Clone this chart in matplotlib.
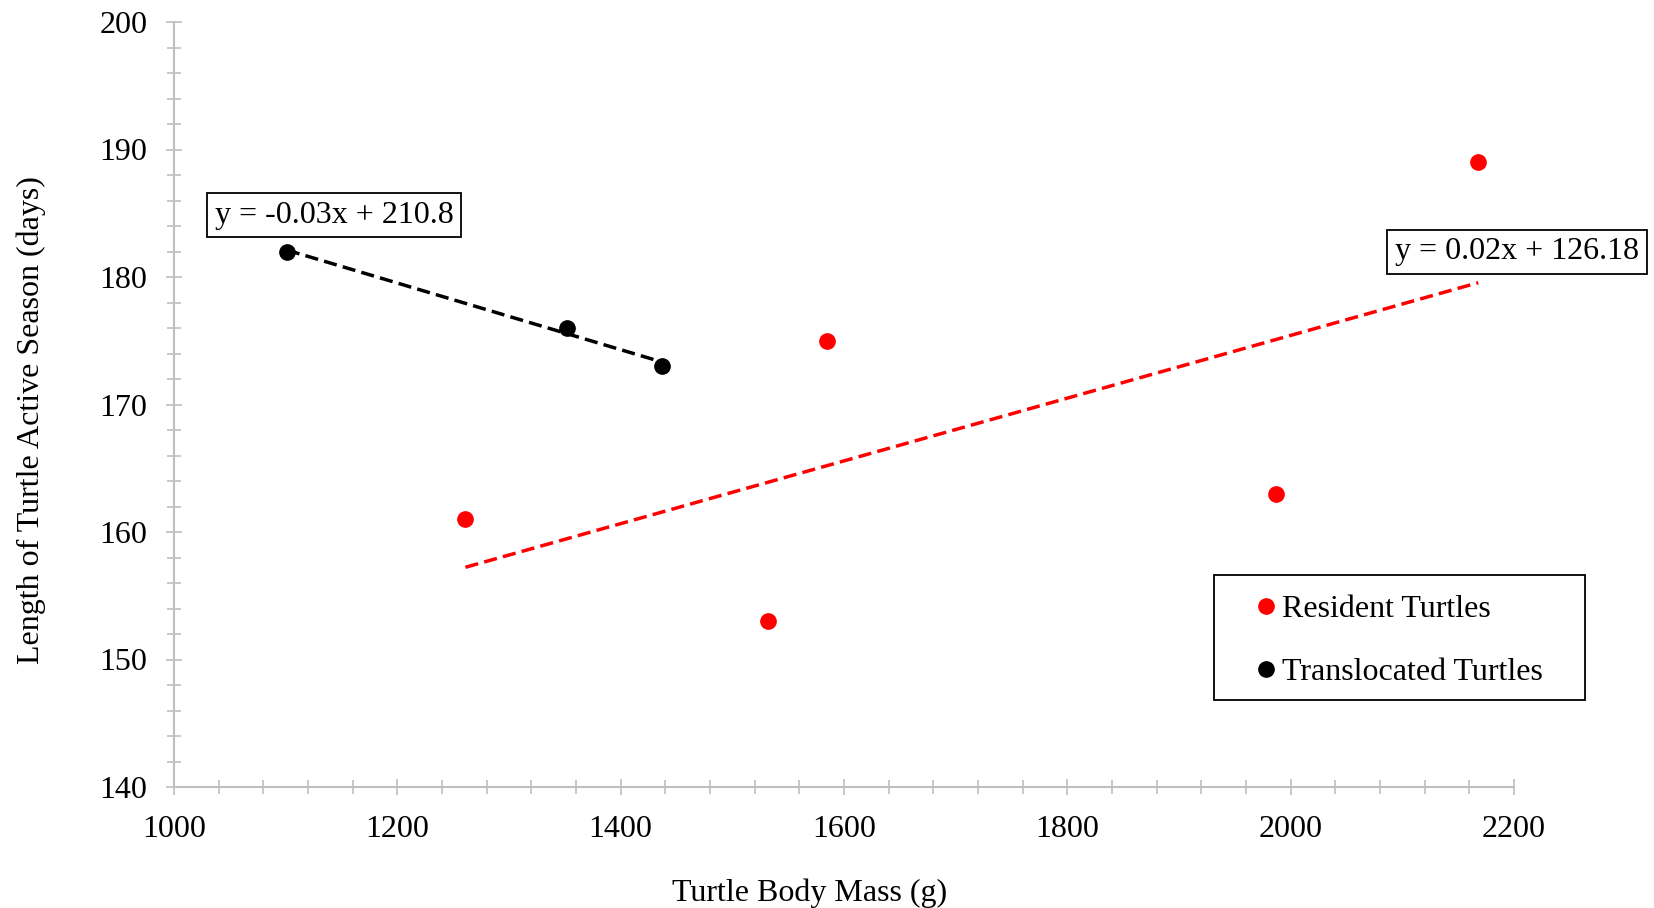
import matplotlib
matplotlib.use("Agg")
import matplotlib.pyplot as plt
from matplotlib.patches import Rectangle
import numpy as np
from matplotlib.ticker import MultipleLocator

# Datos
resident_mass = [1261, 1532, 1585, 1987, 2168]
resident_days = [161, 153, 175, 163, 189]
transloc_mass = [1101, 1352, 1437]
transloc_days = [182, 176, 173]

resident_label = "Resident Turtles"
transloc_label = "Translocated Turtles"
x_label = "Turtle Body Mass (g)"
y_label = "Length of Turtle Active Season (days)"
resident_eq = "y = 0.02x + 126.18"
transloc_eq = "y = -0.03x + 210.8"

plt.rcParams['font.family'] = ['Liberation Serif', 'DejaVu Serif']

W, H = 1654, 908
fig = plt.figure(figsize=(W / 100, H / 100), dpi=100)
ax = fig.add_axes([174 / W, 1 - 787 / H, (1514 - 174) / W, (787 - 22) / H])

gris = '#BFBFBF'
fs = 23

# Lineas de tendencia (regresion lineal)
def tendencia(x, y):
    m, b = np.polyfit(x, y, 1)
    xs = np.array([min(x), max(x)])
    return xs, m * xs + b

xr, yr = tendencia(resident_mass, resident_days)
xt, yt = tendencia(transloc_mass, transloc_days)

ax.plot(xr, yr, color='#FF0000', lw=2.5, dashes=(3.8, 1.8), zorder=2)
ax.plot(xt, yt, color='black', lw=2.5, dashes=(3.8, 1.8), zorder=2)

ax.plot(resident_mass, resident_days, 'o', color='#FF0000', ms=11, ls='none',
        label=resident_label, zorder=3)
ax.plot(transloc_mass, transloc_days, 'o', color='black', ms=11, ls='none',
        label=transloc_label, zorder=3)

ax.set_xlim(1000, 2200)
ax.set_ylim(140, 200)
ax.xaxis.set_major_locator(MultipleLocator(200))
ax.xaxis.set_minor_locator(MultipleLocator(40))
ax.yaxis.set_major_locator(MultipleLocator(10))
ax.yaxis.set_minor_locator(MultipleLocator(2))

for s in ['top', 'right']:
    ax.spines[s].set_visible(False)
for s in ['left', 'bottom']:
    ax.spines[s].set_color(gris)
    ax.spines[s].set_linewidth(1.5)

ax.tick_params(which='major', direction='inout', length=12, width=1.2, color=gris,
               labelsize=fs, labelcolor='black')
ax.tick_params(which='minor', direction='inout', length=10.5, width=1.2, color=gris)
ax.tick_params(axis='y', which='major', pad=13)
ax.tick_params(axis='x', which='major', pad=14)

# Ecuaciones
caja = dict(boxstyle='square,pad=0.25', fc='white', ec='black', lw=1.3)
fig.text(334 / W, 1 - 215 / H, transloc_eq, fontsize=fs,
         ha='center', va='center', bbox=caja)
fig.text(1517 / W, 1 - 252 / H, resident_eq, fontsize=fs,
         ha='center', va='center', bbox=caja)

# Titulos de ejes
fig.text(31 / W, 1 - 420 / H, y_label, fontsize=fs, rotation=90, ha='center', va='center')
fig.text(810 / W, 1 - 893 / H, x_label, fontsize=fs, ha='center', va='center')

# Leyenda con marco aparte
fig.patches.append(Rectangle((1214 / W, 1 - 700 / H), (1585 - 1214) / W, (700 - 575) / H,
                             transform=fig.transFigure, fill=False, ec='black', lw=1.3))
leg = fig.legend(loc='center', bbox_to_anchor=(1400 / W, 1 - 641 / H), fontsize=fs,
                 frameon=False, handlelength=0.6, handletextpad=0.2,
                 labelspacing=1.07, borderpad=0, borderaxespad=0)

fig.savefig("out.png", dpi=100)
